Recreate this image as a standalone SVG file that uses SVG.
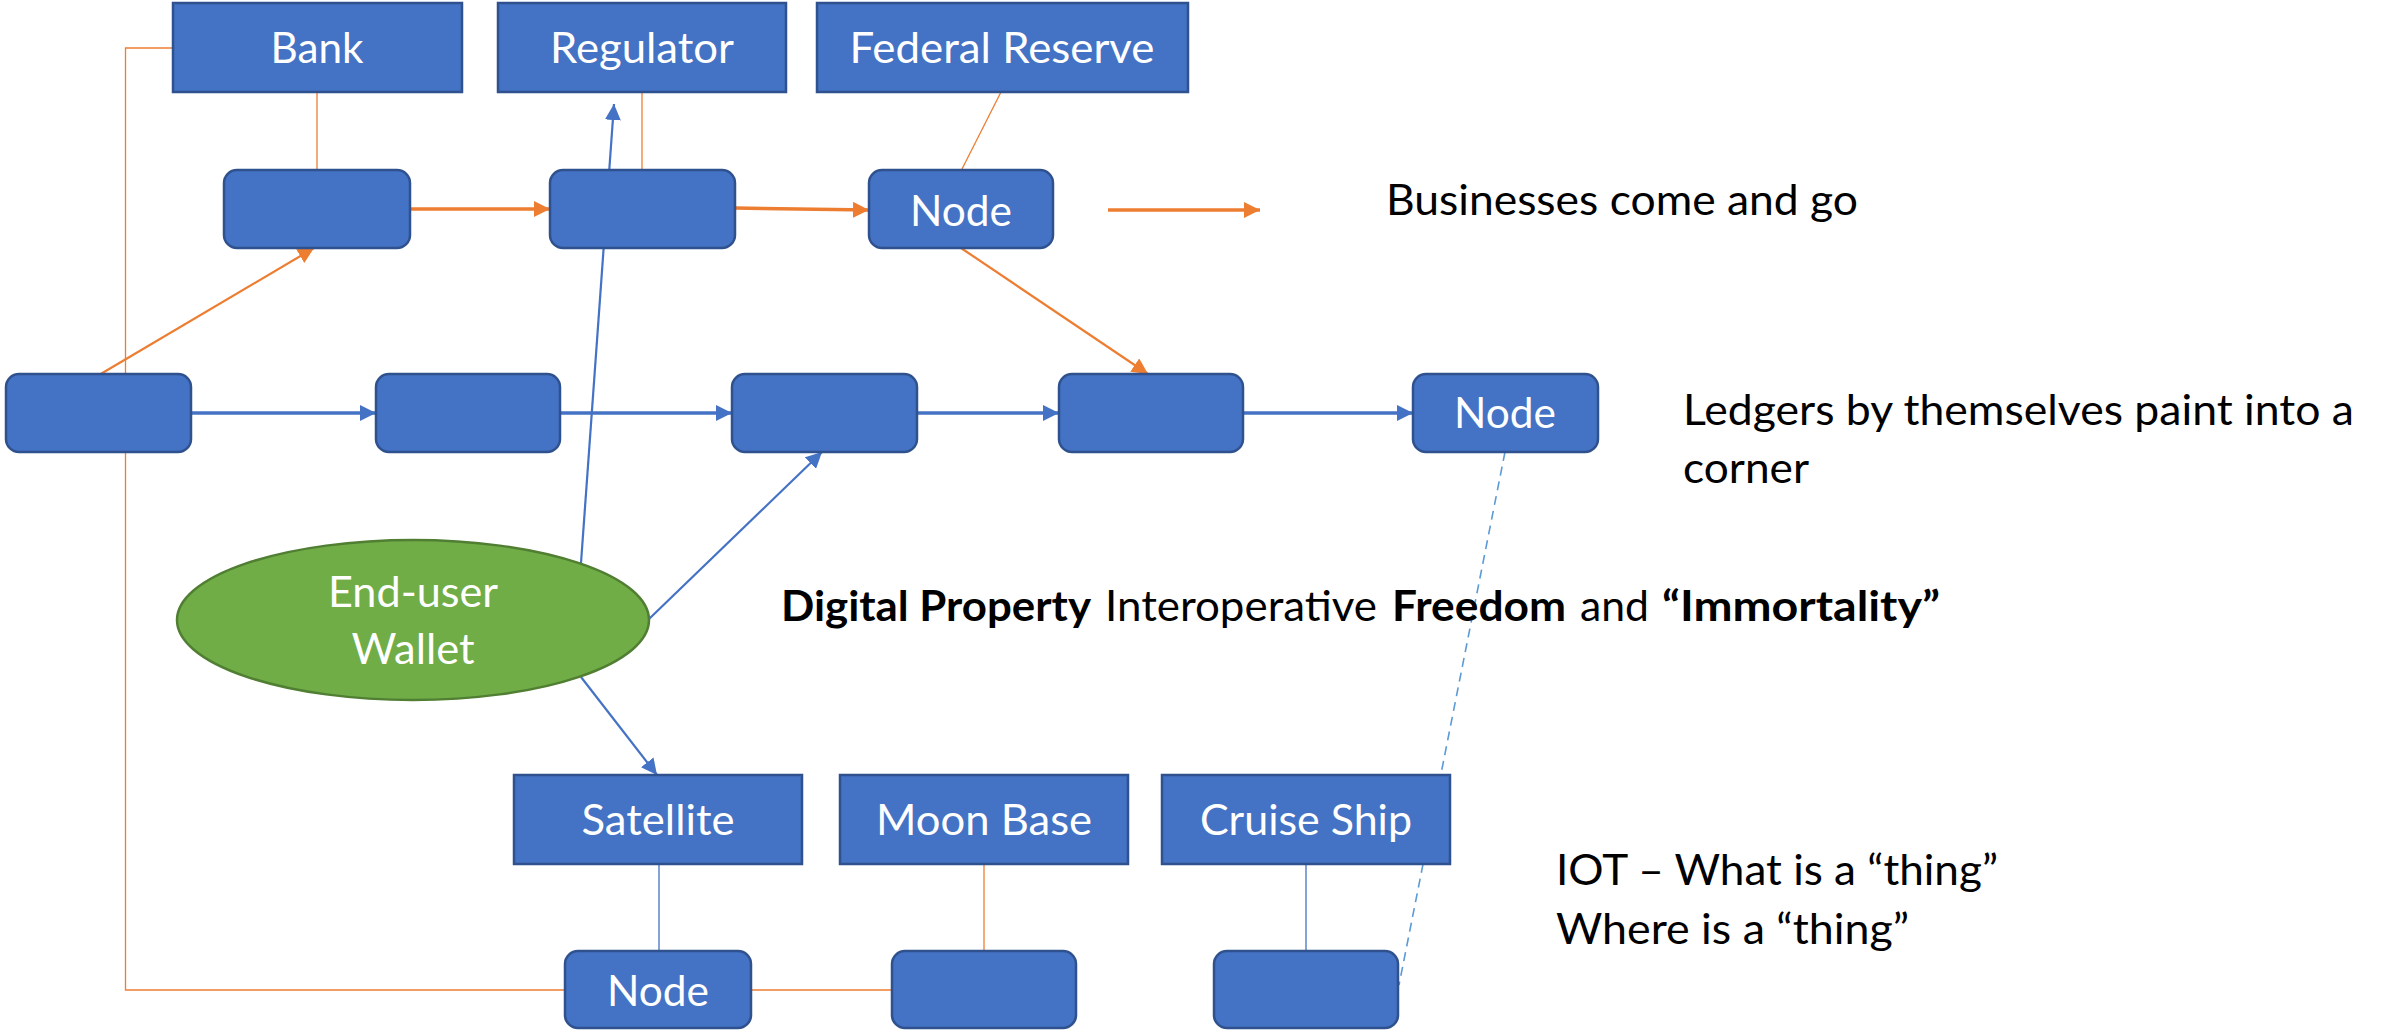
<svg xmlns="http://www.w3.org/2000/svg" width="2382" height="1030" viewBox="0 0 2382 1030">
  <style>
    .box { fill: #4472C4; stroke: #2F528F; stroke-width: 2.5; }
    .wallet { fill: #70AD47; stroke: #507E32; stroke-width: 2.5; }
    .lbl { font-family: Lato, "Liberation Sans", sans-serif; font-size: 42px; fill: #FFFFFF; text-anchor: middle; }
    .note { font-family: Lato, "Liberation Sans", sans-serif; font-size: 42px; fill: #000000; }
    .b { font-weight: bold; }
    .or { fill: none; stroke: #ED7D31; }
    .bl { fill: none; stroke: #4472C4; }
    .thin { stroke-width: 1.3; }
    .mid { stroke-width: 2.2; }
    .thick { stroke-width: 3.5; }
    .dash { fill: none; stroke: #5B9BD5; stroke-width: 1.6; stroke-dasharray: 9 6; }
  </style>
  <defs>
    <marker id="arrow-orange" markerUnits="userSpaceOnUse" markerWidth="16" markerHeight="16" refX="16" refY="8" orient="auto">
      <path d="M0,0 L16,8 L0,16 z" fill="#ED7D31"/>
    </marker>
    <marker id="arrow-blue" markerUnits="userSpaceOnUse" markerWidth="16" markerHeight="16" refX="16" refY="8" orient="auto">
      <path d="M0,0 L16,8 L0,16 z" fill="#4472C4"/>
    </marker>
  </defs>

  <rect width="2382" height="1030" fill="#FFFFFF"/>

  <!-- connectors (drawn beneath the nodes) -->
  <g id="connectors">
    <polyline class="or thin" points="173,48 125.5,48 125.5,990 892,990"/>
    <line class="or thin" x1="317" y1="92" x2="317" y2="170"/>
    <line class="or thin" x1="642" y1="92" x2="642" y2="170"/>
    <line class="or thin" x1="1001" y1="92" x2="961" y2="171"/>
    <line class="or thick" x1="410" y1="209" x2="550" y2="209" marker-end="url(#arrow-orange)"/>
    <line class="or thick" x1="735" y1="208" x2="869" y2="210" marker-end="url(#arrow-orange)"/>
    <line class="or thick" x1="1108" y1="210" x2="1260" y2="210" marker-end="url(#arrow-orange)"/>
    <line class="or mid" x1="99" y1="375" x2="314" y2="248" marker-end="url(#arrow-orange)"/>
    <line class="or mid" x1="961" y1="248" x2="1148" y2="374" marker-end="url(#arrow-orange)"/>
    <line class="bl thick" x1="191" y1="413" x2="376" y2="413" marker-end="url(#arrow-blue)"/>
    <line class="bl thick" x1="560" y1="413" x2="732" y2="413" marker-end="url(#arrow-blue)"/>
    <line class="bl thick" x1="917" y1="413" x2="1059" y2="413" marker-end="url(#arrow-blue)"/>
    <line class="bl thick" x1="1243" y1="413" x2="1413" y2="413" marker-end="url(#arrow-blue)"/>
    <line class="bl mid" x1="581" y1="563" x2="614" y2="104" marker-end="url(#arrow-blue)"/>
    <line class="bl mid" x1="649" y1="619" x2="822" y2="452" marker-end="url(#arrow-blue)"/>
    <line class="bl mid" x1="581" y1="677" x2="657" y2="775" marker-end="url(#arrow-blue)"/>
    <line class="bl thin" x1="659" y1="864" x2="659" y2="951"/>
    <line class="or thin" x1="984" y1="864" x2="984" y2="951"/>
    <line class="bl thin" x1="1306" y1="864" x2="1306" y2="951"/>
    <line class="dash" x1="1505" y1="452" x2="1399" y2="985"/>
  </g>

  <!-- institutions -->
  <g id="bank">
    <rect class="box" x="173" y="3" width="289" height="89"/>
    <text class="lbl" x="317" y="63" textLength="93" lengthAdjust="spacingAndGlyphs">Bank</text>
  </g>
  <g id="regulator">
    <rect class="box" x="498" y="3" width="288" height="89"/>
    <text class="lbl" x="642" y="63" textLength="184" lengthAdjust="spacingAndGlyphs">Regulator</text>
  </g>
  <g id="federal-reserve">
    <rect class="box" x="817" y="3" width="371" height="89"/>
    <text class="lbl" x="1002" y="63" textLength="305" lengthAdjust="spacingAndGlyphs">Federal Reserve</text>
  </g>

  <!-- business ledger row -->
  <g id="biz-1"><rect class="box" x="224" y="170" width="186" height="78" rx="13"/></g>
  <g id="biz-2"><rect class="box" x="550" y="170" width="185" height="78" rx="13"/></g>
  <g id="biz-node">
    <rect class="box" x="869" y="170" width="184" height="78" rx="13"/>
    <text class="lbl" x="961" y="226" textLength="102" lengthAdjust="spacingAndGlyphs">Node</text>
  </g>

  <!-- main ledger row -->
  <g id="ledger-1"><rect class="box" x="6" y="374" width="185" height="78" rx="13"/></g>
  <g id="ledger-2"><rect class="box" x="376" y="374" width="184" height="78" rx="13"/></g>
  <g id="ledger-3"><rect class="box" x="732" y="374" width="185" height="78" rx="13"/></g>
  <g id="ledger-4"><rect class="box" x="1059" y="374" width="184" height="78" rx="13"/></g>
  <g id="ledger-node">
    <rect class="box" x="1413" y="374" width="185" height="78" rx="13"/>
    <text class="lbl" x="1505" y="428" textLength="102" lengthAdjust="spacingAndGlyphs">Node</text>
  </g>

  <!-- wallet -->
  <g id="wallet">
    <ellipse class="wallet" cx="413" cy="620" rx="236" ry="80"/>
    <text class="lbl" x="413" y="607" textLength="170" lengthAdjust="spacingAndGlyphs">End-user</text>
    <text class="lbl" x="413" y="664" textLength="123" lengthAdjust="spacingAndGlyphs">Wallet</text>
  </g>

  <!-- things -->
  <g id="satellite">
    <rect class="box" x="514" y="775" width="288" height="89"/>
    <text class="lbl" x="658" y="835" textLength="153" lengthAdjust="spacingAndGlyphs">Satellite</text>
  </g>
  <g id="moon-base">
    <rect class="box" x="840" y="775" width="288" height="89"/>
    <text class="lbl" x="984" y="835" textLength="216" lengthAdjust="spacingAndGlyphs">Moon Base</text>
  </g>
  <g id="cruise-ship">
    <rect class="box" x="1162" y="775" width="288" height="89"/>
    <text class="lbl" x="1306" y="835" textLength="212" lengthAdjust="spacingAndGlyphs">Cruise Ship</text>
  </g>

  <!-- thing ledgers -->
  <g id="thing-node">
    <rect class="box" x="565" y="951" width="186" height="77" rx="13"/>
    <text class="lbl" x="658" y="1006" textLength="102" lengthAdjust="spacingAndGlyphs">Node</text>
  </g>
  <g id="thing-2"><rect class="box" x="892" y="951" width="184" height="77" rx="13"/></g>
  <g id="thing-3"><rect class="box" x="1214" y="951" width="184" height="77" rx="13"/></g>

  <!-- notes -->
  <g id="notes">
    <text class="note" x="1386" y="215" textLength="472" lengthAdjust="spacingAndGlyphs">Businesses come and go</text>
    <text class="note" x="1683" y="425" textLength="671" lengthAdjust="spacingAndGlyphs">Ledgers by themselves paint into a</text>
    <text class="note" x="1683" y="483" textLength="126" lengthAdjust="spacingAndGlyphs">corner</text>
    <text class="note b" x="781" y="621" textLength="310" lengthAdjust="spacingAndGlyphs">Digital Property</text>
    <text class="note" x="1105" y="621" textLength="272" lengthAdjust="spacingAndGlyphs">Interoperative</text>
    <text class="note b" x="1392" y="621" textLength="174" lengthAdjust="spacingAndGlyphs">Freedom</text>
    <text class="note" x="1580" y="621" textLength="69" lengthAdjust="spacingAndGlyphs">and</text>
    <text class="note b" x="1662" y="621" textLength="278" lengthAdjust="spacingAndGlyphs">“Immortality”</text>
    <text class="note" x="1556" y="885" textLength="442" lengthAdjust="spacingAndGlyphs">IOT – What is a “thing”</text>
    <text class="note" x="1556" y="944" textLength="353" lengthAdjust="spacingAndGlyphs">Where is a “thing”</text>
  </g>
</svg>
